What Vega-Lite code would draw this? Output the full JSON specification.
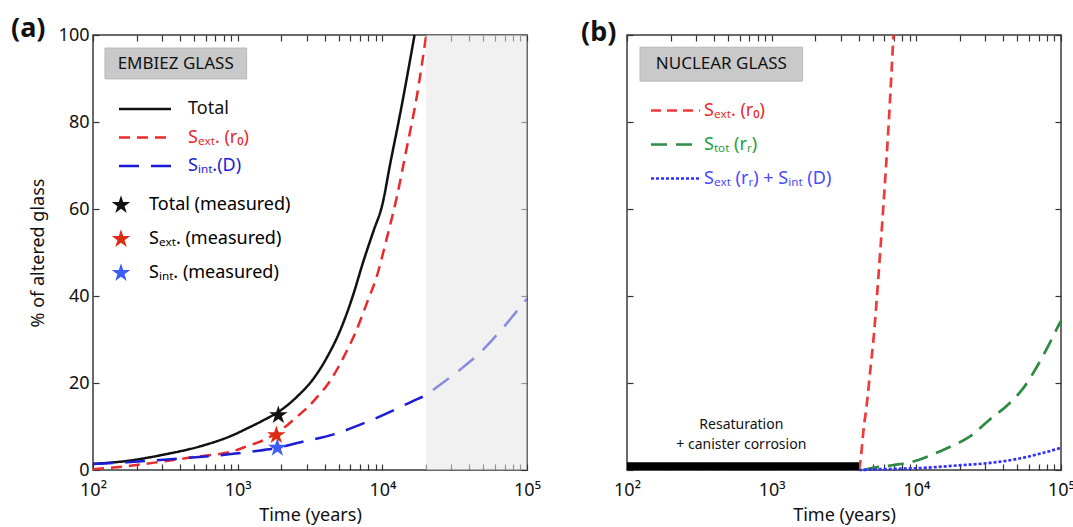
{
  "$schema": "https://vega.github.io/schema/vega-lite/v6.json",
  "background": "white",
  "padding": {"left": 10, "top": 14, "right": 0, "bottom": 0},
  "spacing": 100,
  "bounds": "flush",
  "config": {
    "font": "Noto Sans",
    "view": {"stroke": "#3a3a3a", "strokeWidth": 1.5},
    "axis": {"labelFont": "Noto Sans", "titleFont": "Noto Sans", "labelFontSize": 18, "titleFontSize": 18, "titleFontWeight": "normal", "labelColor": "#111", "titleColor": "#111", "tickColor": "#333", "tickWidth": 1.2, "tickSize": -6, "labelPadding": 13, "domain": false, "grid": false, "zindex": 1, "labelFlush": false, "labelOverlap": false, "labelBound": false},
    "title": {"font": "Noto Sans", "fontSize": 27, "fontWeight": "bold", "anchor": "start", "frame": "group", "color": "#111"},
    "legend": {"labelFont": "Noto Sans", "labelFontSize": 18, "labelLimit": 400, "padding": 0}
  },
  "resolve": {"scale": {"stroke": "independent", "strokeDash": "independent", "fill": "independent"}},
  "hconcat": [
    {
      "width": 434,
      "height": 435,
      "title": {"text": "(a)", "dx": -82, "dy": 21},
      "resolve": {"axis": {"x": "independent", "y": "independent"}},
      "layer": [
        {
          "data": {"values": [
            {"s": "Total", "t": 100, "p": 1.4}, {"s": "Total", "t": 173, "p": 2.1}, {"s": "Total", "t": 294, "p": 3.4}, {"s": "Total", "t": 586, "p": 5.7}, {"s": "Total", "t": 895, "p": 7.8}, {"s": "Total", "t": 1170, "p": 9.6}, {"s": "Total", "t": 1520, "p": 11.5}, {"s": "Total", "t": 1900, "p": 13.3}, {"s": "Total", "t": 2580, "p": 16.9}, {"s": "Total", "t": 3360, "p": 21.1}, {"s": "Total", "t": 4160, "p": 26.0}, {"s": "Total", "t": 5130, "p": 32.2}, {"s": "Total", "t": 6250, "p": 40}, {"s": "Total", "t": 7400, "p": 48}, {"s": "Total", "t": 8700, "p": 55}, {"s": "Total", "t": 10000, "p": 61}, {"s": "Total", "t": 11350, "p": 70.5}, {"s": "Total", "t": 13300, "p": 82}, {"s": "Total", "t": 16700, "p": 100},
            {"s": "Sₑₓₜ. (r₀)", "t": 100, "p": 0.2}, {"s": "Sₑₓₜ. (r₀)", "t": 173, "p": 0.9}, {"s": "Sₑₓₜ. (r₀)", "t": 294, "p": 1.9}, {"s": "Sₑₓₜ. (r₀)", "t": 500, "p": 3.0}, {"s": "Sₑₓₜ. (r₀)", "t": 945, "p": 4.4}, {"s": "Sₑₓₜ. (r₀)", "t": 1170, "p": 5.5}, {"s": "Sₑₓₜ. (r₀)", "t": 1520, "p": 6.9}, {"s": "Sₑₓₜ. (r₀)", "t": 2200, "p": 10.3}, {"s": "Sₑₓₜ. (r₀)", "t": 2580, "p": 12.3}, {"s": "Sₑₓₜ. (r₀)", "t": 3000, "p": 14.2}, {"s": "Sₑₓₜ. (r₀)", "t": 3550, "p": 16.8}, {"s": "Sₑₓₜ. (r₀)", "t": 4380, "p": 20.6}, {"s": "Sₑₓₜ. (r₀)", "t": 5410, "p": 26.0}, {"s": "Sₑₓₜ. (r₀)", "t": 6520, "p": 31.6}, {"s": "Sₑₓₜ. (r₀)", "t": 8050, "p": 39.5}, {"s": "Sₑₓₜ. (r₀)", "t": 8950, "p": 43.5}, {"s": "Sₑₓₜ. (r₀)", "t": 10800, "p": 53.6}, {"s": "Sₑₓₜ. (r₀)", "t": 12600, "p": 62.8}, {"s": "Sₑₓₜ. (r₀)", "t": 14800, "p": 74.3}, {"s": "Sₑₓₜ. (r₀)", "t": 17300, "p": 85.8}, {"s": "Sₑₓₜ. (r₀)", "t": 20100, "p": 100},
            {"s": "Sᵢₙₜ.(D)", "t": 100, "p": 1.4}, {"s": "Sᵢₙₜ.(D)", "t": 173, "p": 1.8}, {"s": "Sᵢₙₜ.(D)", "t": 384, "p": 2.6}, {"s": "Sᵢₙₜ.(D)", "t": 764, "p": 3.4}, {"s": "Sᵢₙₜ.(D)", "t": 1300, "p": 4.3}, {"s": "Sᵢₙₜ.(D)", "t": 1880, "p": 5.1}, {"s": "Sᵢₙₜ.(D)", "t": 2720, "p": 6.4}, {"s": "Sᵢₙₜ.(D)", "t": 4610, "p": 8.2}, {"s": "Sᵢₙₜ.(D)", "t": 8710, "p": 11.7}, {"s": "Sᵢₙₜ.(D)", "t": 16400, "p": 15.9}, {"s": "Sᵢₙₜ.(D)", "t": 19800, "p": 17.2}, {"s": "Sᵢₙₜ.(D)", "t": 24400, "p": 19.3}, {"s": "Sᵢₙₜ.(D)", "t": 36400, "p": 23.7}, {"s": "Sᵢₙₜ.(D)", "t": 45400, "p": 26.4}, {"s": "Sᵢₙₜ.(D)", "t": 66800, "p": 32.3}, {"s": "Sᵢₙₜ.(D)", "t": 82600, "p": 36.0}, {"s": "Sᵢₙₜ.(D)", "t": 100000, "p": 39.4}
          ]},
          "mark": {"type": "line", "strokeWidth": 2.5, "interpolate": "monotone"},
          "encoding": {
            "x": {"field": "t", "type": "quantitative", "scale": {"type": "log", "domain": [100, 100000], "nice": false},
                  "axis": {"orient": "bottom", "title": "Time (years)", "titlePadding": 7, "labelPadding": 17,
                           "values": [100, 200, 300, 400, 500, 600, 700, 800, 900, 1000, 2000, 3000, 4000, 5000, 6000, 7000, 8000, 9000, 10000, 20000, 30000, 40000, 50000, 60000, 70000, 80000, 90000, 100000],
                           "labelExpr": "datum.value==100?'10²':datum.value==1000?'10³':datum.value==10000?'10⁴':datum.value==100000?'10⁵':''"}},
            "y": {"field": "p", "type": "quantitative", "scale": {"domain": [0, 100], "nice": false},
                  "axis": {"orient": "left", "title": "% of altered glass", "values": [0, 20, 40, 60, 80, 100], "labelPadding": 10, "titlePadding": 11}},
            "stroke": {"field": "s", "type": "nominal", "sort": null,
                       "scale": {"domain": ["Total", "Sₑₓₜ. (r₀)", "Sᵢₙₜ.(D)"], "range": ["#111111", "#ea2a2a", "#1c1cd6"]},
                       "legend": {"orient": "none", "legendX": 40, "legendY": 62, "title": null, "symbolType": "M-2.5,0L2.5,0", "symbolSize": 433, "symbolStrokeWidth": 2.5, "labelOffset": 31, "rowPadding": 7.5,
                                  "encode": {"labels": {"update": {"fill": {"signal": "datum.index==0?'#111111':datum.index==1?'#ea2a2a':'#1c1cd6'"}}}}}},
            "strokeDash": {"field": "s", "type": "nominal", "sort": null,
                       "scale": {"domain": ["Total", "Sₑₓₜ. (r₀)", "Sᵢₙₜ.(D)"], "range": [[1, 0], [11, 7], [20, 12]]},
                       "legend": {"orient": "none", "legendX": 40, "legendY": 62, "title": null, "symbolType": "M-2.5,0L2.5,0", "symbolSize": 433, "symbolStrokeWidth": 2.5, "labelOffset": 31, "rowPadding": 7.5,
                                  "encode": {"labels": {"update": {"fill": {"signal": "datum.index==0?'#111111':datum.index==1?'#ea2a2a':'#1c1cd6'"}}}}}}
          }
        },
        {
          "data": {"values": [
            {"s": "Total (measured)", "t": 1910, "p": 12.6},
            {"s": "Sₑₓₜ. (measured)", "t": 1850, "p": 8.0},
            {"s": "Sᵢₙₜ. (measured)", "t": 1880, "p": 5.1}
          ]},
          "mark": {"type": "point", "filled": true, "opacity": 1, "strokeWidth": 0, "size": 380, "shape": "M0,-1L0.2245,-0.309L0.951,-0.309L0.3633,0.118L0.5878,0.809L0,0.382L-0.5878,0.809L-0.3633,0.118L-0.951,-0.309L-0.2245,-0.309Z"},
          "encoding": {
            "x": {"field": "t", "type": "quantitative", "scale": {"type": "log", "domain": [100, 100000], "nice": false}, "axis": null},
            "y": {"field": "p", "type": "quantitative", "scale": {"domain": [0, 100], "nice": false}, "axis": null},
            "fill": {"field": "s", "type": "nominal", "sort": null,
                     "scale": {"domain": ["Total (measured)", "Sₑₓₜ. (measured)", "Sᵢₙₜ. (measured)"], "range": ["#111111", "#dd2c14", "#3b5cf6"]},
                     "legend": {"orient": "none", "legendX": 18, "legendY": 160, "title": null, "symbolType": "M0,-1L0.2245,-0.309L0.951,-0.309L0.3633,0.118L0.5878,0.809L0,0.382L-0.5878,0.809L-0.3633,0.118L-0.951,-0.309L-0.2245,-0.309Z", "symbolSize": 380, "symbolStrokeWidth": 0, "labelOffset": 18, "rowPadding": 15,
                                "encode": {"labels": {"update": {"fill": {"signal": "datum.index==0?'#111111':datum.index==1?'#ea2a2a':'#2b2be0'"}}}}}}
          }
        },
        {
          "data": {"values": [{}]},
          "mark": {"type": "rect", "fill": "#e6e6e6", "opacity": 0.55},
          "encoding": {
            "x": {"datum": 20000, "type": "quantitative", "scale": {"type": "log", "domain": [100, 100000], "nice": false},
                  "axis": {"orient": "top", "title": null, "labels": false, "values": [100, 200, 300, 400, 500, 600, 700, 800, 900, 1000, 2000, 3000, 4000, 5000, 6000, 7000, 8000, 9000, 10000, 20000, 30000, 40000, 50000, 60000, 70000, 80000, 90000, 100000]}},
            "x2": {"datum": 100000},
            "y": {"datum": 0, "type": "quantitative", "scale": {"domain": [0, 100], "nice": false},
                  "axis": {"orient": "right", "title": null, "labels": false, "values": [0, 20, 40, 60, 80, 100]}},
            "y2": {"datum": 100}
          }
        },
        {
          "data": {"values": [{}]},
          "mark": {"type": "rect", "fill": "#c9c9c9", "stroke": "#b8b8b8", "strokeWidth": 1},
          "encoding": {
            "x": {"datum": 121, "type": "quantitative", "scale": {"type": "log", "domain": [100, 100000], "nice": false}, "axis": null},
            "x2": {"datum": 1153},
            "y": {"datum": 97, "type": "quantitative", "scale": {"domain": [0, 100], "nice": false}, "axis": null},
            "y2": {"datum": 89.9}
          }
        },
        {
          "data": {"values": [{"label": "EMBIEZ GLASS"}]},
          "mark": {"type": "text", "fontSize": 17, "font": "Noto Sans", "color": "#111", "align": "center", "baseline": "middle"},
          "encoding": {
            "x": {"datum": 373, "type": "quantitative", "scale": {"type": "log", "domain": [100, 100000], "nice": false}, "axis": null},
            "y": {"datum": 93.4, "type": "quantitative", "scale": {"domain": [0, 100], "nice": false}, "axis": null},
            "text": {"field": "label"}
          }
        }
      ]
    },
    {
      "width": 434,
      "height": 435,
      "title": {"text": "(b)", "dx": -46, "dy": 21},
      "resolve": {"axis": {"x": "independent", "y": "independent"}},
      "layer": [
        {
          "data": {"values": [
            {"s": "Sₑₓₜ. (r₀)", "t": 4010, "p": 0}, {"s": "Sₑₓₜ. (r₀)", "t": 4120, "p": 2.3}, {"s": "Sₑₓₜ. (r₀)", "t": 4290, "p": 8.4}, {"s": "Sₑₓₜ. (r₀)", "t": 4580, "p": 16.1}, {"s": "Sₑₓₜ. (r₀)", "t": 4830, "p": 23.7}, {"s": "Sₑₓₜ. (r₀)", "t": 5100, "p": 31.4}, {"s": "Sₑₓₜ. (r₀)", "t": 5320, "p": 39.1}, {"s": "Sₑₓₜ. (r₀)", "t": 5900, "p": 60}, {"s": "Sₑₓₜ. (r₀)", "t": 6450, "p": 80}, {"s": "Sₑₓₜ. (r₀)", "t": 6950, "p": 100},
            {"s": "Sₜₒₜ (rᵣ)", "t": 4300, "p": 0}, {"s": "Sₜₒₜ (rᵣ)", "t": 4830, "p": 0.4}, {"s": "Sₜₒₜ (rᵣ)", "t": 6830, "p": 1.1}, {"s": "Sₜₒₜ (rᵣ)", "t": 9400, "p": 1.9}, {"s": "Sₜₒₜ (rᵣ)", "t": 12600, "p": 3.4}, {"s": "Sₜₒₜ (rᵣ)", "t": 17000, "p": 5.3}, {"s": "Sₜₒₜ (rᵣ)", "t": 23200, "p": 7.6}, {"s": "Sₜₒₜ (rᵣ)", "t": 31900, "p": 11.5}, {"s": "Sₜₒₜ (rᵣ)", "t": 43900, "p": 15.3}, {"s": "Sₜₒₜ (rᵣ)", "t": 55700, "p": 19.1}, {"s": "Sₜₒₜ (rᵣ)", "t": 67200, "p": 23.4}, {"s": "Sₜₒₜ (rᵣ)", "t": 81000, "p": 28.3}, {"s": "Sₜₒₜ (rᵣ)", "t": 95000, "p": 32.9}, {"s": "Sₜₒₜ (rᵣ)", "t": 100000, "p": 34.3},
            {"s": "Sₑₓₜ (rᵣ) + Sᵢₙₜ (D)", "t": 4000, "p": 0}, {"s": "Sₑₓₜ (rᵣ) + Sᵢₙₜ (D)", "t": 6000, "p": 0.2}, {"s": "Sₑₓₜ (rᵣ) + Sᵢₙₜ (D)", "t": 10000, "p": 0.4}, {"s": "Sₑₓₜ (rᵣ) + Sᵢₙₜ (D)", "t": 20300, "p": 1.1}, {"s": "Sₑₓₜ (rᵣ) + Sᵢₙₜ (D)", "t": 29500, "p": 1.5}, {"s": "Sₑₓₜ (rᵣ) + Sᵢₙₜ (D)", "t": 52800, "p": 2.7}, {"s": "Sₑₓₜ (rᵣ) + Sᵢₙₜ (D)", "t": 72700, "p": 3.8}, {"s": "Sₑₓₜ (rᵣ) + Sᵢₙₜ (D)", "t": 100000, "p": 5.1}
          ]},
          "mark": {"type": "line", "strokeWidth": 2.7, "interpolate": "monotone"},
          "encoding": {
            "x": {"field": "t", "type": "quantitative", "scale": {"type": "log", "domain": [100, 100000], "nice": false},
                  "axis": {"orient": "bottom", "title": "Time (years)", "titlePadding": 7, "labelPadding": 17,
                           "values": [100, 200, 300, 400, 500, 600, 700, 800, 900, 1000, 2000, 3000, 4000, 5000, 6000, 7000, 8000, 9000, 10000, 20000, 30000, 40000, 50000, 60000, 70000, 80000, 90000, 100000],
                           "labelExpr": "datum.value==100?'10²':datum.value==1000?'10³':datum.value==10000?'10⁴':datum.value==100000?'10⁵':''"}},
            "y": {"field": "p", "type": "quantitative", "scale": {"domain": [0, 100], "nice": false},
                  "axis": {"orient": "left", "title": null, "labels": false, "values": [0, 20, 40, 60, 80, 100]}},
            "stroke": {"field": "s", "type": "nominal", "sort": null,
                       "scale": {"domain": ["Sₑₓₜ. (r₀)", "Sₜₒₜ (rᵣ)", "Sₑₓₜ (rᵣ) + Sᵢₙₜ (D)"], "range": ["#ee3a3a", "#2f8a44", "#2f2fff"]},
                       "legend": {"orient": "none", "legendX": 37, "legendY": 64, "title": null, "symbolType": "M-2.5,0L2.5,0", "symbolSize": 384, "symbolStrokeWidth": 2.5, "labelOffset": 17, "rowPadding": 13,
                                  "encode": {"labels": {"update": {"fill": {"signal": "datum.index==0?'#ea2a2a':datum.index==1?'#22a03a':'#4a4aff'"}}}}}},
            "strokeDash": {"field": "s", "type": "nominal", "sort": null,
                       "scale": {"domain": ["Sₑₓₜ. (r₀)", "Sₜₒₜ (rᵣ)", "Sₑₓₜ (rᵣ) + Sᵢₙₜ (D)"], "range": [[10, 6], [16, 9], [3, 2]]},
                       "legend": {"orient": "none", "legendX": 37, "legendY": 64, "title": null, "symbolType": "M-2.5,0L2.5,0", "symbolSize": 384, "symbolStrokeWidth": 2.5, "labelOffset": 17, "rowPadding": 13,
                                  "encode": {"labels": {"update": {"fill": {"signal": "datum.index==0?'#ea2a2a':datum.index==1?'#22a03a':'#4a4aff'"}}}}}}
          }
        },
        {
          "data": {"values": [{"t0": 100, "t1": 4010}]},
          "mark": {"type": "rule", "strokeWidth": 8, "color": "#000000"},
          "encoding": {
            "x": {"field": "t0", "type": "quantitative", "scale": {"type": "log", "domain": [100, 100000], "nice": false}, "axis": null},
            "x2": {"field": "t1"},
            "y": {"datum": 0.85, "type": "quantitative", "scale": {"domain": [0, 100], "nice": false}, "axis": null}
          }
        },
        {
          "data": {"values": [{"label": "Resaturation\n+ canister corrosion"}]},
          "mark": {"type": "text", "fontSize": 14, "font": "Noto Sans", "color": "#111", "align": "center", "baseline": "middle", "lineBreak": "\n", "lineHeight": 20},
          "encoding": {
            "x": {"datum": 617, "type": "quantitative", "scale": {"type": "log", "domain": [100, 100000], "nice": false}, "axis": null},
            "y": {"datum": 10.4, "type": "quantitative", "scale": {"domain": [0, 100], "nice": false}, "axis": null},
            "text": {"field": "label"}
          }
        },
        {
          "data": {"values": [{}]},
          "mark": {"type": "rect", "fill": "#c9c9c9", "stroke": "#b8b8b8", "strokeWidth": 1},
          "encoding": {
            "x": {"datum": 123, "type": "quantitative", "scale": {"type": "log", "domain": [100, 100000], "nice": false},
                  "axis": {"orient": "top", "title": null, "labels": false, "values": [100, 200, 300, 400, 500, 600, 700, 800, 900, 1000, 2000, 3000, 4000, 5000, 6000, 7000, 8000, 9000, 10000, 20000, 30000, 40000, 50000, 60000, 70000, 80000, 90000, 100000]}},
            "x2": {"datum": 1637},
            "y": {"datum": 97.2, "type": "quantitative", "scale": {"domain": [0, 100], "nice": false},
                  "axis": {"orient": "right", "title": null, "labels": false, "values": [0, 20, 40, 60, 80, 100]}},
            "y2": {"datum": 89.4}
          }
        },
        {
          "data": {"values": [{"label": "NUCLEAR GLASS"}]},
          "mark": {"type": "text", "fontSize": 17, "font": "Noto Sans", "color": "#111", "align": "center", "baseline": "middle"},
          "encoding": {
            "x": {"datum": 449, "type": "quantitative", "scale": {"type": "log", "domain": [100, 100000], "nice": false}, "axis": null},
            "y": {"datum": 93.3, "type": "quantitative", "scale": {"domain": [0, 100], "nice": false}, "axis": null},
            "text": {"field": "label"}
          }
        }
      ]
    }
  ]
}
